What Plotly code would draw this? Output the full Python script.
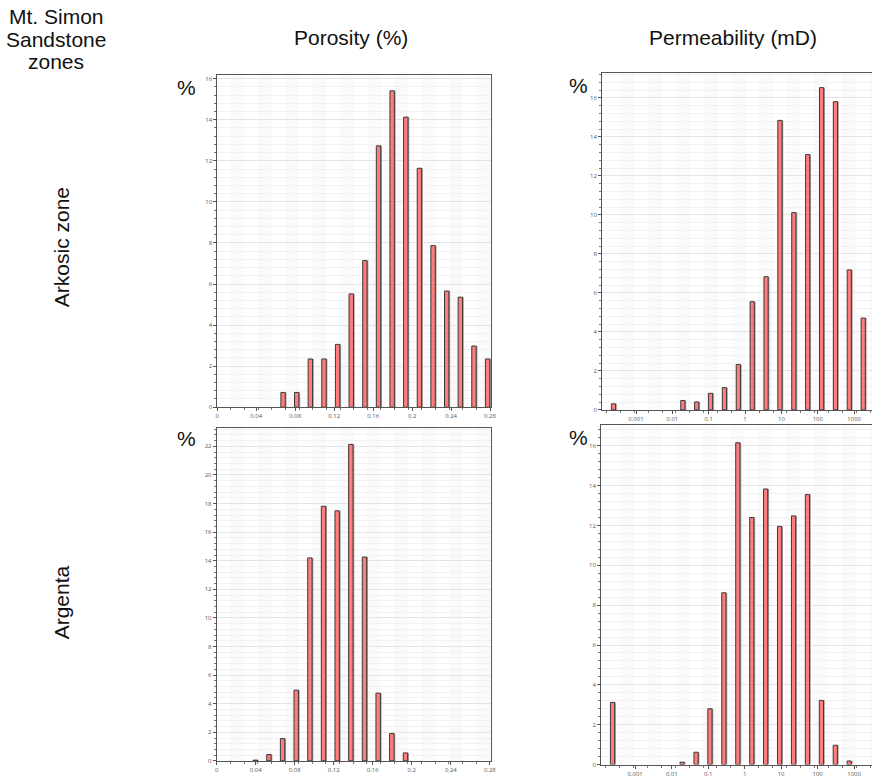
import numpy as np
import plotly.graph_objects as go

# ---------------- data ----------------
# Porosity (fraction) histogram bins and percentages
por_ark_x = [0.0675, 0.0815, 0.0955, 0.1095, 0.1235, 0.1375, 0.1515, 0.1655,
             0.1795, 0.1935, 0.2075, 0.2215, 0.2355, 0.2495, 0.2635, 0.2775]
por_ark_y = [0.72, 0.72, 2.35, 2.35, 3.06, 5.52, 7.14, 12.73,
             15.41, 14.13, 11.64, 7.87, 5.66, 5.36, 2.98, 2.35]

por_arg_x = [0.0395, 0.0535, 0.0675, 0.0815, 0.0955, 0.1095, 0.1235, 0.1375,
             0.1515, 0.1655, 0.1795, 0.1935]
por_arg_y = [0.05, 0.44, 1.56, 4.95, 14.2, 17.81, 17.49, 22.14,
             14.26, 4.74, 1.91, 0.56]

# Permeability (mD) histogram bin centres and percentages
perm_ark_x = [0.00024, 0.0194, 0.0467, 0.112, 0.270, 0.651, 1.57, 3.77,
              9.08, 21.9, 52.6, 127, 305, 734, 1770]
perm_ark_y = [0.31, 0.48, 0.41, 0.85, 1.14, 2.33, 5.55, 6.83,
              14.85, 10.12, 13.1, 16.53, 15.81, 7.18, 4.71]

perm_arg_x = [0.00024, 0.0194, 0.0467, 0.112, 0.270, 0.651, 1.57, 3.77,
              9.08, 21.9, 52.6, 127, 305, 734]
perm_arg_y = [3.12, 0.12, 0.62, 2.8, 8.62, 16.15, 12.4, 13.83,
              11.95, 12.48, 13.55, 3.22, 0.97, 0.18]

por_tickvals = [0, 0.04, 0.08, 0.12, 0.16, 0.2, 0.24, 0.28]
por_ticktext = ["0", "0.04", "0.08", "0.12", "0.16", "0.2", "0.24", "0.28"]
perm_tickvals = [0.001, 0.01, 0.1, 1, 10, 100, 1000]
perm_ticktext = ["0.001", "0.01", "0.1", "1", "10", "100", "1000"]

col_headers = ["Porosity (%)", "Permeability (mD)"]
row_headers = ["Arkosic zone", "Argenta"]
corner_header_lines = ["Mt. Simon", "Sandstone", "zones"]

# ---------------- layout geometry ----------------
W, H = 878, 782
FILL = "#FF7C7C"
EDGE = "#3a3a3a"
SHADOW = "#a0a0a0"
TICKFONT = dict(family="Open Sans, DejaVu Sans", size=6, color="#555555")
HEADFONT = dict(family="Liberation Sans, Arial", size=21, color="#111111")

fig = go.Figure()

por_bw = 0.0045
perm_bw = 0.115  # in decades

panels = [
    ("x", "y", por_ark_x, por_ark_y, False, (217.3, 494), (75, 409.3), [0, 0.2815], [0, 16.2]),
    ("x2", "y2", perm_ark_x, perm_ark_y, True, (605.7, 878), (73, 412), [-3.93, 3.49], [0, 17.3]),
    ("x3", "y3", por_arg_x, por_arg_y, False, (216.7, 493.3), (430, 764.8), [0, 0.281], [0, 23.3]),
    ("x4", "y4", perm_arg_x, perm_arg_y, True, (604.7, 878), (427, 768.5), [-3.93, 3.49], [0, 17.05]),
]

layout = {}
shapes = []
for i, (xa, ya, xs, ys, is_log, xd, yd, xr, yr) in enumerate(panels):
    xv = np.log10(np.array(xs, dtype=float)) if is_log else np.array(xs, dtype=float)
    bw = perm_bw if is_log else por_bw
    px_unit = (xr[1] - xr[0]) / (xd[1] - xd[0])  # data units per pixel
    fig.add_trace(go.Bar(x=xv + 1.3 * px_unit, y=ys, width=bw, xaxis=xa, yaxis=ya,
                         marker=dict(color=SHADOW, line=dict(width=0)),
                         hoverinfo="skip", showlegend=False))
    fig.add_trace(go.Bar(x=xv, y=ys, width=bw, xaxis=xa, yaxis=ya,
                         marker=dict(color=FILL, line=dict(color=EDGE, width=1)),
                         showlegend=False))

    sfx = "" if i == 0 else str(i + 1)
    xdom = [xd[0] / W, min(xd[1] / W, 1.0)]
    ydom = [1 - yd[1] / H, 1 - yd[0] / H]
    if is_log:
        tv = list(np.log10(perm_tickvals))
        tt = perm_ticktext
        step = 0.3815
        first_edge = float(np.log10(perm_ark_x[0])) - step / 2
    else:
        tv = por_tickvals
        tt = por_ticktext
        step = 0.014
        first_edge = 0.0
    minor_vals = []
    e = first_edge
    while e < xr[1]:
        if e > xr[0]:
            minor_vals.append(e)
        e += step
    layout["xaxis" + sfx] = dict(
        domain=xdom, range=xr, anchor="y" + sfx, tickvals=tv, ticktext=tt,
        ticks="outside", ticklen=3, tickcolor="#555", showgrid=False, zeroline=False,
        showline=True, linecolor="#555", linewidth=1, mirror=True,
        tickfont=TICKFONT, fixedrange=True,
        minor=dict(tickvals=minor_vals, ticks="outside", ticklen=2, tickcolor="#777", showgrid=False),
    )
    layout["yaxis" + sfx] = dict(
        domain=ydom, range=yr, anchor="x" + sfx, dtick=2, tick0=0,
        ticks="outside", ticklen=3, tickcolor="#555", showgrid=True, gridcolor="#e4e4e4",
        gridwidth=1, zeroline=False, showline=True, linecolor="#555", linewidth=1,
        mirror=(not is_log), tickfont=TICKFONT, fixedrange=True,
        minor=dict(dtick=0.4, ticks="outside", ticklen=2, tickcolor="#777",
                   showgrid=True, gridcolor="#f1f1f1"),
    )
    k = 0
    e = first_edge
    while e < xr[1]:
        if k % 2 == 1:
            shapes.append(dict(type="rect", xref="x" + sfx, yref="y" + sfx + " domain",
                               x0=max(e, xr[0]), x1=min(e + step, xr[1]), y0=0, y1=1,
                               fillcolor="#fafafa", line=dict(width=0), layer="below"))
        e += step
        k += 1


def ann(text, px_, py_, font, **kw):
    return dict(text=text, x=px_ / W, y=1 - py_ / H, xref="paper", yref="paper",
                xanchor="center", yanchor="middle", showarrow=False, font=font, **kw)


annotations = [
    ann(col_headers[0], 352, 38, HEADFONT),
    ann(col_headers[1], 738, 38, HEADFONT),
    ann(row_headers[0], 60, 248, HEADFONT, textangle=-90),
    ann(row_headers[1], 60, 605, HEADFONT, textangle=-90),
]
for line, py_ in zip(corner_header_lines, [17, 40, 62]):
    annotations.append(ann(line, 55, py_, HEADFONT))
for (px_, py_) in [(186, 88), (582, 86), (186, 441), (582, 440)]:
    annotations.append(ann("%", px_, py_, HEADFONT))

fig.update_layout(
    width=W, height=H, margin=dict(l=0, r=0, t=0, b=0),
    paper_bgcolor="white", plot_bgcolor="white",
    barmode="overlay", showlegend=False,
    annotations=annotations, shapes=shapes, **layout,
)

fig.write_html("out.html")
